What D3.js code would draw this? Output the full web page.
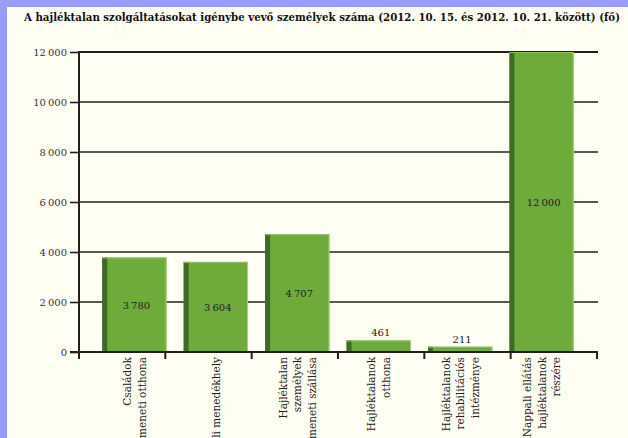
<!DOCTYPE html>
<html>
<head>
<meta charset="utf-8">
<script src="https://cdn.jsdelivr.net/npm/d3@7/dist/d3.min.js"></script>
<style>
  html, body { margin: 0; padding: 0; background: #9b9bff; }
  svg { display: block; }
</style>
</head>
<body>
<svg id="chart" width="628" height="438"></svg>
<script>
const title = "A hajléktalan szolgáltatásokat igénybe vevő személyek száma (2012. 10. 15. és 2012. 10. 21. között) (fő)"

const categories = [
  ["Családok", "átmeneti otthona"],
  ["Éjjeli menedékhely"],
  ["Hajléktalan", "személyek", "átmeneti szállása"],
  ["Hajléktalanok", "otthona"],
  ["Hajléktalanok", "rehabilitációs", "intézménye"],
  ["Nappali ellátás", "hajléktalanok", "részére"]
]
const values = [3780, 3604, 4707, 461, 211, 12000]
const y_ticks = [0, 2000, 4000, 6000, 8000, 10000, 12000]

const marginTop = 52
const marginLeft = 79
const plotRight = 597
const plotBottom = 352

const bar_color = "#6eab3a"
const bar_dark = "#3e6b27"
const grid_color = "#231f20"

const fmt = v => d3.format(",")(v).replace(/,/g, "\u202F")

const svg = d3.select("#chart")
const keys = categories.map((c, i) => "c" + i)

// cream page, purple frame on the top and left
svg.append("rect")
  .attr("x", 7).attr("y", 7)
  .attr("width", 628 - 7).attr("height", 438 - 7)
  .attr("fill", "#fffff3")

svg.append("text")
  .attr("x", 24)
  .attr("y", 21)
  .attr("font-family", "DejaVu Serif")
  .attr("font-weight", "bold")
  .attr("font-size", 11)
  .attr("fill", "#111")
  .attr("textLength", 596)
  .attr("lengthAdjust", "spacingAndGlyphs")
  .text(title)

const y = d3.scaleLinear().domain([0, 12000]).range([plotBottom, marginTop])

// bars sit on their own band scale, the tick marks on a plain one
const x_bars = d3.scaleBand().domain(keys).range([marginLeft, plotRight])
  .paddingInner(0.21).paddingOuter(0.285)
const x_ticks = d3.scaleBand().domain(keys).range([marginLeft, plotRight])

// gridlines
svg.append("g")
  .selectAll("line")
  .data(y_ticks.filter(d => d > 0))
  .join("line")
  .attr("x1", marginLeft)
  .attr("x2", plotRight + 1)
  .attr("y1", d => y(d))
  .attr("y2", d => y(d))
  .attr("stroke", grid_color)
  .attr("stroke-width", d => d == 12000 ? 2.2 : 1.4)

// y axis
const y_axis = svg.append("g")
  .attr("transform", `translate(${marginLeft},0)`)
  .call(d3.axisLeft(y).tickValues(y_ticks).tickSize(9).tickPadding(3).tickFormat(fmt))
y_axis.select(".domain").remove()
y_axis.selectAll("line").attr("stroke", grid_color).attr("stroke-width", 1.6)
y_axis.selectAll("text")
  .attr("font-family", "DejaVu Serif")
  .attr("font-size", 10)
  .attr("fill", "#333")

// bars
const bars = svg.append("g")
  .selectAll("g")
  .data(values)
  .join("g")

bars.append("rect")
  .attr("x", (d, i) => x_bars(keys[i]))
  .attr("y", d => y(d))
  .attr("width", x_bars.bandwidth())
  .attr("height", d => plotBottom - y(d))
  .attr("fill", bar_color)

bars.append("rect")
  .attr("x", (d, i) => x_bars(keys[i]))
  .attr("y", d => y(d))
  .attr("width", 5)
  .attr("height", d => plotBottom - y(d))
  .attr("fill", bar_dark)

bars.append("line")
  .attr("x1", (d, i) => x_bars(keys[i]))
  .attr("x2", (d, i) => x_bars(keys[i]) + x_bars.bandwidth())
  .attr("y1", d => y(d) + 0.5)
  .attr("y2", d => y(d) + 0.5)
  .attr("stroke", "#8fbf66")
  .attr("stroke-width", 1)

bars.append("line")
  .attr("x1", (d, i) => x_bars(keys[i]) + x_bars.bandwidth() - 0.5)
  .attr("x2", (d, i) => x_bars(keys[i]) + x_bars.bandwidth() - 0.5)
  .attr("y1", d => y(d))
  .attr("y2", plotBottom)
  .attr("stroke", "#a6d07f")
  .attr("stroke-width", 1)

// value labels: inside when the bar is tall, above otherwise
bars.append("text")
  .attr("x", (d, i) => x_bars(keys[i]) + x_bars.bandwidth() / 2 + 2)
  .attr("y", d => (plotBottom - y(d)) > 30 ? (y(d) + plotBottom) / 2 + 4 : y(d) - 4)
  .attr("text-anchor", "middle")
  .attr("font-family", "DejaVu Serif")
  .attr("font-size", 10)
  .attr("fill", "#222")
  .text(d => fmt(d))

// x axis base line, y axis line and the tick marks between categories
svg.append("line")
  .attr("x1", marginLeft - 9)
  .attr("x2", plotRight + 1)
  .attr("y1", plotBottom)
  .attr("y2", plotBottom)
  .attr("stroke", grid_color)
  .attr("stroke-width", 2)

svg.append("line")
  .attr("x1", marginLeft)
  .attr("x2", marginLeft)
  .attr("y1", marginTop - 1)
  .attr("y2", plotBottom + 7)
  .attr("stroke", grid_color)
  .attr("stroke-width", 2)

svg.append("g")
  .selectAll("line")
  .data(keys.concat(["end"]))
  .join("line")
  .attr("x1", d => d == "end" ? plotRight : x_ticks(d))
  .attr("x2", d => d == "end" ? plotRight : x_ticks(d))
  .attr("y1", plotBottom)
  .attr("y2", plotBottom + 7)
  .attr("stroke", grid_color)
  .attr("stroke-width", 2)

// category labels, rotated, every line ends just under the axis
categories.forEach((lines, i) => {
  const cx = x_bars(keys[i]) + x_bars.bandwidth() / 2
  const n = lines.length
  lines.forEach((line, j) => {
    const bx = cx + (j - (n - 1) / 2) * 14.5 + 4
    svg.append("text")
      .attr("transform", `translate(${bx},${plotBottom + 5}) rotate(-90)`)
      .attr("font-family", "DejaVu Serif")
      .attr("font-size", 10.5)
      .attr("fill", "#222")
      .attr("text-anchor", "end")
      .text(line)
  })
})
</script>
</body>
</html>
